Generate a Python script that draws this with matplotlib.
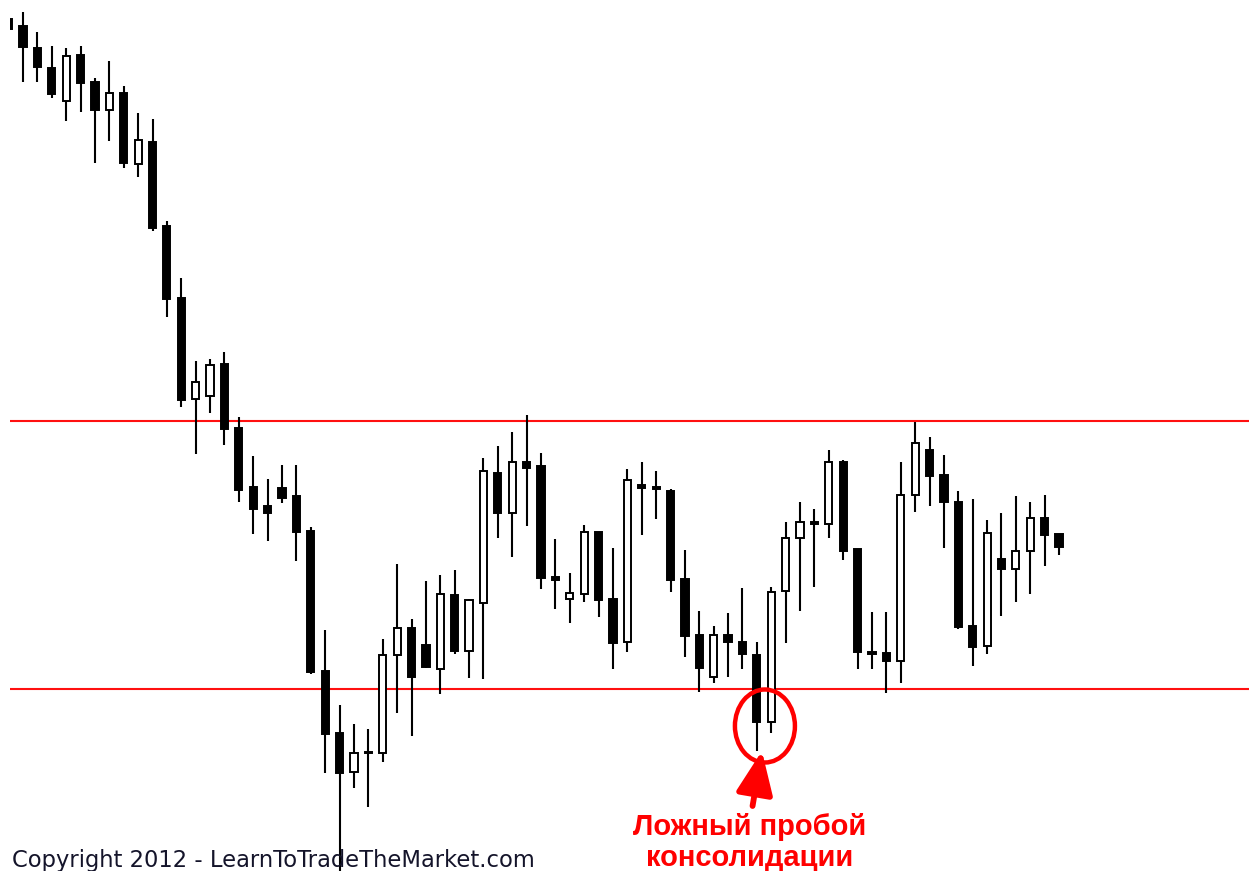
import matplotlib
matplotlib.use("Agg")
import matplotlib.pyplot as plt
from matplotlib.patches import Rectangle, Ellipse

# OHLC (arbitrary price units, higher = up)
opens = [881, 874, 852, 832, 799, 845, 818, 790, 807, 736,
         758, 674, 602, 501, 504, 536, 472, 413, 394, 412,
         404, 369, 229, 167, 128, 147, 147, 245, 272, 255,
         231, 305, 249, 297, 427, 387, 438, 434, 323, 301,
         306, 368, 301, 258, 415, 413, 409, 321, 265, 223,
         265, 258, 245, 178, 309, 362, 378, 376, 438, 351,
         248, 247, 239, 405, 450, 425, 398, 274, 254, 341,
         331, 349, 382, 366]
highs = [882, 888, 868, 854, 852, 854, 822, 839, 814, 787,
         781, 679, 622, 539, 541, 548, 483, 444, 421, 435,
         435, 373, 270, 195, 176, 171, 261, 336, 281, 319,
         325, 330, 301, 442, 454, 468, 485, 447, 361, 327,
         375, 368, 352, 431, 438, 429, 411, 350, 289, 274,
         287, 312, 258, 313, 378, 398, 391, 450, 440, 351,
         288, 288, 438, 478, 463, 445, 409, 401, 380, 387,
         404, 398, 405, 366]
lows = [870, 818, 818, 802, 779, 788, 737, 759, 732, 723,
        669, 583, 493, 446, 487, 455, 398, 366, 359, 397,
        339, 226, 127, 26, 112, 93, 138, 187, 164, 232,
        206, 246, 222, 221, 362, 343, 374, 311, 291, 277,
        298, 283, 231, 248, 365, 381, 308, 243, 208, 217,
        223, 231, 149, 167, 257, 289, 313, 362, 340, 231,
        231, 207, 217, 388, 394, 352, 271, 234, 246, 284,
        298, 306, 334, 345]
closes = [871, 853, 833, 806, 844, 817, 790, 807, 737, 760,
          672, 601, 500, 518, 535, 471, 410, 391, 387, 402,
          368, 228, 166, 127, 147, 148, 245, 272, 223, 233,
          306, 249, 300, 429, 387, 438, 432, 322, 320, 307,
          368, 300, 257, 420, 412, 411, 320, 264, 232, 265,
          258, 246, 178, 308, 362, 378, 376, 438, 349, 248,
          246, 239, 405, 457, 424, 398, 273, 253, 367, 331,
          349, 382, 365, 353]

resistance = 479
support = 211

label_ru = "Ложный пробой\nконсолидации"
copyright_txt = "Copyright 2012 - LearnToTradeTheMarket.com"

fig = plt.figure(figsize=(12.49, 8.71), dpi=100)
ax = fig.add_axes([10 / 1249, 0, 1 - 10 / 1249, 1])
ax.set_xlim(0.097, 86.2)
ax.set_ylim(29, 900)
ax.axis("off")

body_w = 0.5
for i, (o, h, l, c) in enumerate(zip(opens, highs, lows, closes)):
    ax.plot([i, i], [l, h], color="black", lw=1.5, solid_capstyle="butt", zorder=2)
    up = c > o
    bottom = min(o, c)
    height = max(abs(c - o), 0.6)
    ax.add_patch(Rectangle((i - body_w / 2, bottom), body_w, height,
                           facecolor="white" if up else "black",
                           edgecolor="black", lw=1.4, zorder=3))

ax.axhline(resistance, color="#ff1010", lw=1.5, zorder=1)
ax.axhline(support, color="#ff1010", lw=1.5, zorder=1)

# false breakout marker
ax.add_patch(Ellipse((52.56, 174), 4.17, 73, fill=False, edgecolor="#ff0000",
                     lw=3.2, zorder=5))
ax.annotate("", xy=(52.35, 149), xytext=(51.7, 94),
            arrowprops=dict(arrowstyle="-|>,head_length=1.05,head_width=0.45",
                            mutation_scale=25, lw=4.2, color="#ff0000",
                            shrinkA=0, shrinkB=0), zorder=5)
ax.text(51.5, 65, label_ru.split("\n")[0], color="#ff0000", fontsize=21,
        fontweight="bold", family="Liberation Sans", ha="center", va="baseline",
        clip_on=False, zorder=6)
ax.text(51.5, 34, label_ru.split("\n")[1], color="#ff0000", fontsize=21,
        fontweight="bold", family="Liberation Sans", ha="center", va="baseline",
        clip_on=False, zorder=6)

ax.text(0.24, 33, copyright_txt, color="#14142a", fontsize=16.3,
        family="DejaVu Sans", ha="left", va="baseline", clip_on=False, zorder=6)

fig.savefig("out.png", dpi=100, facecolor="white")
